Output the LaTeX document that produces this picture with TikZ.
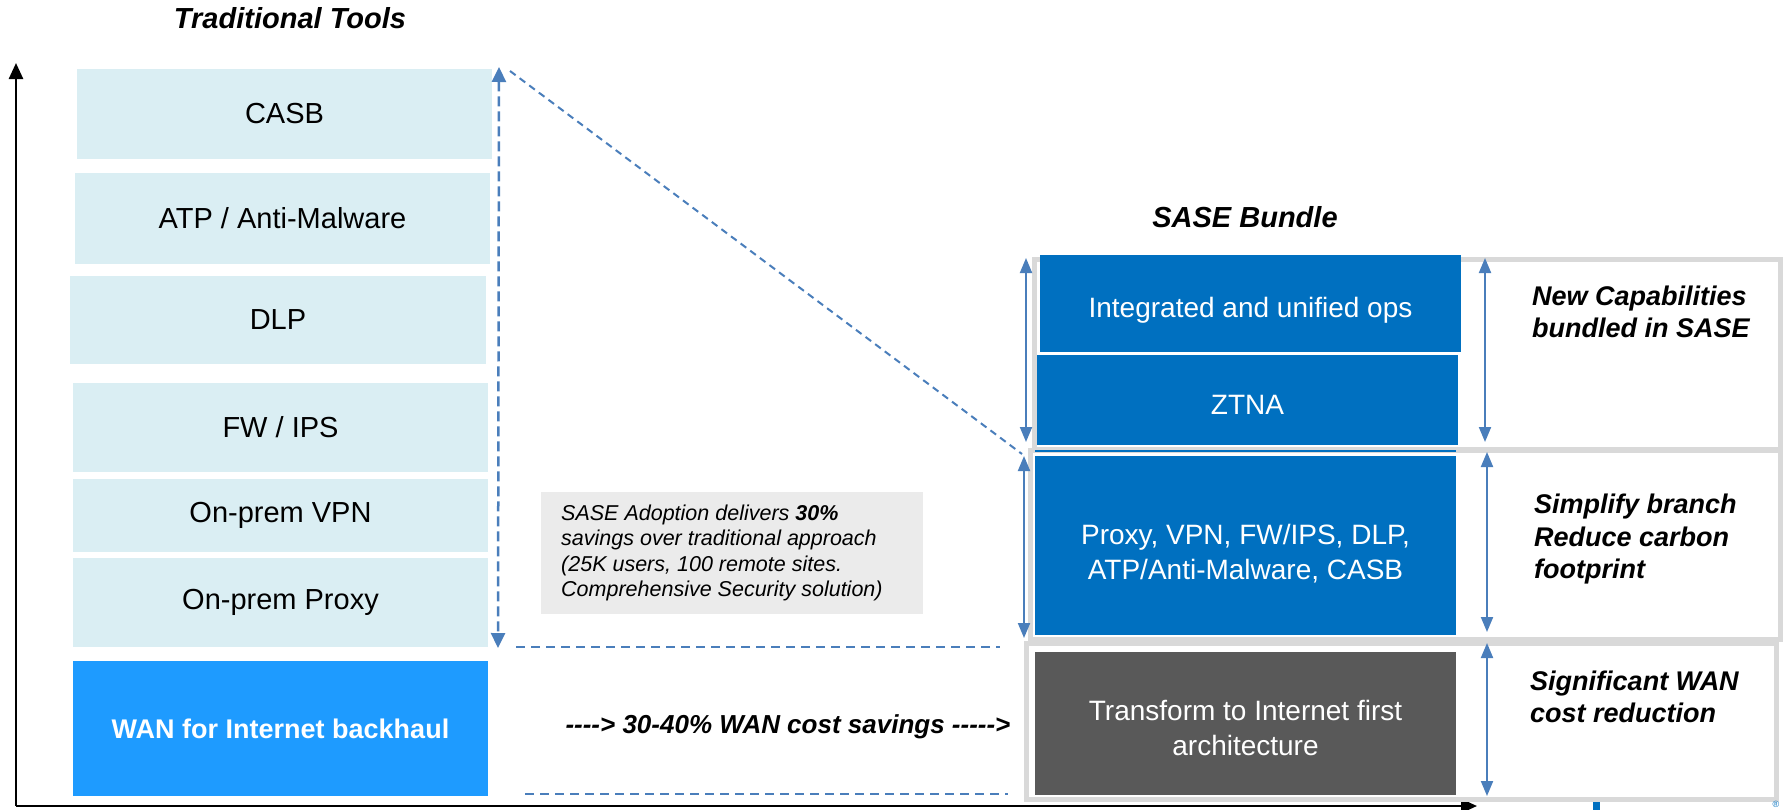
\documentclass[tikz,border=0pt]{standalone}
\usepackage{fontspec}
\setmainfont{Liberation Sans}
\usetikzlibrary{arrows.meta}
\definecolor{lightbox}{HTML}{DAEEF3}
\definecolor{sblue}{HTML}{0070C0}
\definecolor{wanblue}{HTML}{1E9BFF}
\definecolor{darkbox}{HTML}{595959}
\definecolor{framegray}{HTML}{D9D9D9}
\definecolor{arrblue}{HTML}{4A7EBB}
\definecolor{notegray}{HTML}{EBEBEB}
\begin{document}
\begin{tikzpicture}[x=1pt,y=-1pt,
  tbox/.style={fill=lightbox, inner sep=0pt, font=\fontsize{29}{34}\selectfont},
  bfill/.style={fill=sblue, inner sep=0pt},
  wtxt/.style={text=white, inner sep=0pt, align=center, font=\fontsize{28}{35}\selectfont},
  frame/.style={draw=framegray, line width=5pt},
  ttl/.style={font=\fontsize{29}{34}\selectfont\bfseries\itshape, inner sep=0pt},
  rlab/.style={font=\fontsize{27}{32}\selectfont\bfseries\itshape, inner sep=0pt, anchor=base west},
  dbl/.style={draw=arrblue, line width=2pt, {Triangle[length=15pt,width=12pt]}-{Triangle[length=15pt,width=12pt]}},
  dashv/.style={draw=arrblue, line width=2.5pt, dash pattern=on 10pt off 5pt, {Triangle[length=15pt,width=14pt]}-{Triangle[length=15pt,width=14pt]}},
  dashd/.style={draw=arrblue, line width=2pt, dash pattern=on 7pt off 5pt},
  dashh/.style={draw=arrblue, line width=2.5pt, dash pattern=on 9pt off 6pt},
  axis/.style={draw=black, line width=2.5pt, -{Triangle[length=16pt,width=14pt]}}
]
\useasboundingbox (0,0) rectangle (1783,809);

% titles
\node[ttl, anchor=base] (tt) at (290,28) {Traditional Tools};
\node[ttl, anchor=base] (st) at (1245,227) {SASE Bundle};

% axes
\coordinate (origin) at (16,806);
\coordinate (ytop) at (16,63);
\coordinate (xend) at (1477,806);
\draw[axis] (origin) -- (ytop);
\draw[axis] (origin) -- (xend);

% traditional tool boxes
\node[tbox, minimum width=415pt, minimum height=90pt] (casb) at (284.5,114) {CASB};
\node[tbox, minimum width=415pt, minimum height=91pt] (atp) at (282.5,218.5) {ATP / Anti-Malware};
\node[tbox, minimum width=416pt, minimum height=88pt] (dlp) at (278,320) {DLP};
\node[tbox, minimum width=415pt, minimum height=89pt] (fw) at (280.5,427.5) {FW / IPS};
\node[tbox, minimum width=415pt, minimum height=73pt] (vpn) at (280.5,515.5) {On-prem VPN};
\node[tbox, minimum width=415pt, minimum height=89pt] (oproxy) at (280.5,602.5) {On-prem Proxy};
\node[fill=wanblue, text=white, inner sep=0pt, minimum width=415pt, minimum height=135pt,
      font=\fontsize{27}{32}\selectfont\bfseries] (wan) at (280.5,728.5) {WAN for Internet backhaul};

% frames on the right
\draw[frame] (1034,259) rectangle (1780,449);
\draw[frame] (1030,450) rectangle (1780,639);
\draw[frame] (1026,643) rectangle (1776,799);

% SASE boxes
\node[bfill, minimum width=421pt, minimum height=97pt] (integ) at (1250.5,303.5) {};
\node[wtxt] (integtxt) at (1250.5,310) {Integrated and unified ops};
\node[bfill, minimum width=421pt, minimum height=90pt] (ztna) at (1247.5,400) {};
\node[wtxt] (ztnatxt) at (1247.5,405) {ZTNA};
\node[bfill, minimum width=421pt, minimum height=179pt] (sase) at (1245.5,545.5) {};
\node[wtxt] (sasetxt) at (1245.5,554) {Proxy, VPN, FW/IPS, DLP,\\ATP/Anti-Malware, CASB};
\draw[sblue, line width=1.5pt] (1035,451) -- (1456,451);
\node[fill=darkbox, inner sep=0pt, minimum width=421pt, minimum height=143pt] (dark) at (1245.5,723.5) {};
\node[wtxt] (darktxt) at (1245.5,728) {Transform to Internet first\\architecture};

% right labels
\node[rlab] (newcap1) at (1532,305) {New Capabilities};
\node[rlab] (newcap2) at (1532,337) {bundled in SASE};
\node[rlab] (simpl1) at (1534,513) {Simplify branch};
\node[rlab] (simpl2) at (1534,546) {Reduce carbon};
\node[rlab] (simpl3) at (1534,578) {footprint};
\node[rlab] (sigwan1) at (1530,690) {Significant WAN};
\node[rlab] (sigwan2) at (1530,722) {cost reduction};

% double arrows
\coordinate (l1t) at (1026,258); \coordinate (l1b) at (1026,442);
\coordinate (l2t) at (1024,456); \coordinate (l2b) at (1024,638);
\coordinate (r1t) at (1485,258); \coordinate (r1b) at (1485,442);
\coordinate (r2t) at (1487,452); \coordinate (r2b) at (1487,632);
\coordinate (r3t) at (1487,643); \coordinate (r3b) at (1487,796);
\draw[dbl] (l1t) -- (l1b);
\draw[dbl] (l2t) -- (l2b);
\draw[dbl] (r1t) -- (r1b);
\draw[dbl] (r2t) -- (r2b);
\draw[dbl] (r3t) -- (r3b);

% dashed connectors
\coordinate (dvt) at (499,67); \coordinate (dvb) at (498,648);
\draw[dashv] (dvt) -- (dvb);
\coordinate (d1) at (510,71); \coordinate (d2) at (1022,454);
\draw[dashd] (d1) -- (d2);
\coordinate (h1a) at (516,647); \coordinate (h1b) at (1000,647);
\draw[dashh] (h1a) -- (h1b);
\coordinate (h2a) at (525,794); \coordinate (h2b) at (1008,794);
\draw[dashh] (h2a) -- (h2b);

% note
\node[fill=notegray, minimum width=382pt, minimum height=122pt, inner sep=0pt] (note) at (732,553) {};
\node[anchor=west, inner sep=0pt, align=left, font=\fontsize{21.5}{25.5}\selectfont\itshape] (notetxt) at (561,553)
  {SASE Adoption delivers \textbf{30\%}\\savings over traditional approach\\(25K users, 100 remote sites.\\Comprehensive Security solution)};

% WAN savings
\node[anchor=base, inner sep=0pt, font=\fontsize{26}{30}\selectfont\bfseries\itshape] (wansav) at (788,733)
  {-{}-{}-{}-> 30-40\% WAN cost savings -{}-{}-{}-{}->};

% partial logo at the bottom edge
\fill[sblue] (1593,802) rectangle (1600,812);
\draw[sblue, line width=5pt] (1647,812) arc[start angle=180, end angle=0, radius=9];
\node[text=sblue, inner sep=0pt, font=\fontsize{9}{10}\selectfont, anchor=north] (reg) at (1776,801) {\textregistered};
\end{tikzpicture}
\end{document}
